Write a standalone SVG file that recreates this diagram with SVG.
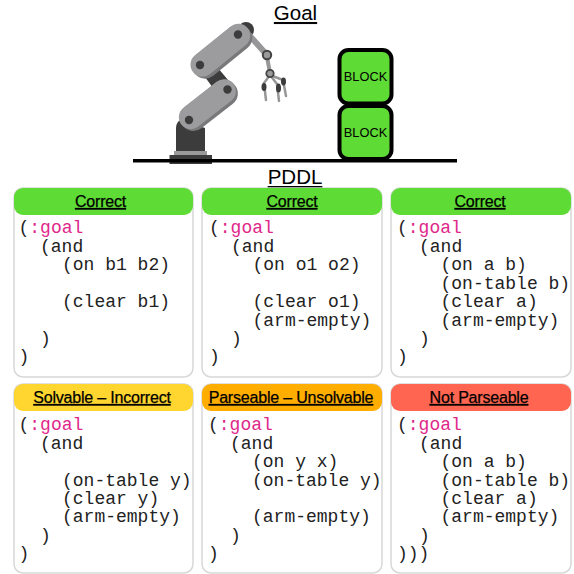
<svg xmlns="http://www.w3.org/2000/svg" width="574" height="574" viewBox="0 0 574 574">
<style>
.t{font-family:"Liberation Sans",Arial,sans-serif;fill:#000;text-anchor:middle}
.big{font-size:20.5px;text-decoration:underline}
.h{font-size:16px;text-decoration:underline;letter-spacing:-.2px;stroke:#000;stroke-width:.25}
.m{font-family:"Liberation Mono","DejaVu Sans Mono",monospace;font-size:18px;fill:#222}
.k{fill:#e0278a}
.card{fill:#fff;stroke:#d8d8d8;stroke-width:1.5}
.g1{fill:#9c9b9d}.g2{fill:#79787a}.d{fill:#3c3c3c}
.lk{fill:none;stroke:#979698;stroke-linecap:round}
.b{fill:#5fdb35;stroke:#000;stroke-width:4}
.bt{font-size:12.8px}
</style>
<g id="title-goal"><text class="t big" x="295.500" y="20">Goal</text></g>
<g id="robot">
<path class="d" d="M176 151V128Q176 122 181 120L205 128V151Z"/>
<rect x="174" y="151" width="33" height="5" fill="#9a9a9a"/>
<rect x="169.500" y="155" width="42.500" height="9" class="d"/>
<path class="d" d="M205 77L218 68L228 80L213 88Z"/>
<rect x="-33" y="-13" width="66" height="27" rx="13" class="g2" transform="translate(208.500 105) rotate(-38)"/>
<rect x="-33" y="-13" width="66" height="24" rx="12" class="g1" transform="translate(208 105) rotate(-38)"/>
<circle cx="189" cy="120" r="4.200" class="d"/><circle cx="227.500" cy="89.500" r="4.200" class="d"/>
<circle cx="246" cy="30" r="8" class="d"/>
<path class="lk" stroke-width="6" d="M250 36L267 55"/>
<path class="lk" stroke-width="4" d="M267 57L270 73"/>
<rect x="-35" y="-13" width="70" height="27" rx="13" class="g2" transform="translate(221.500 51) rotate(-39)"/>
<rect x="-35" y="-13" width="70" height="24" rx="12" class="g1" transform="translate(221 51) rotate(-39)"/>
<circle cx="200" cy="65" r="4.200" class="d"/><circle cx="238" cy="34.500" r="4.200" class="d"/>
<circle cx="267" cy="55" r="4.200" fill="#9a9a9a" stroke="#444" stroke-width="2"/>
<path class="lk" stroke-width="2.500" d="M270 75L264 83L266 100M270 75L277 84L279 101M270 75L283 80L286 96"/>
<circle cx="270" cy="73.500" r="3.700" fill="#9a9a9a" stroke="#444" stroke-width="1.800"/>
<ellipse cx="264" cy="87" rx="2.500" ry="4" class="d"/><ellipse cx="278.500" cy="88" rx="2.500" ry="4.500" class="d"/><ellipse cx="283.500" cy="81.500" rx="2.500" ry="4" class="d"/>
</g>
<g id="ground"><rect x="133" y="159" width="324" height="3.500" fill="#000"/></g>
<g id="block-top"><rect class="b" x="339.500" y="50" width="52" height="53.500" rx="9"/><text class="t bt" x="365.500" y="81">BLOCK</text></g>
<g id="block-bottom"><rect class="b" x="339.500" y="106" width="52" height="53" rx="9"/><text class="t bt" x="365.500" y="137">BLOCK</text></g>
<g id="title-pddl"><text class="t big" x="295" y="184">PDDL</text></g>

<g id="card-1"><rect class="card" x="14" y="188" width="179" height="189" rx="9"/><path d="M14 197a9 9 0 0 1 9-9h161a9 9 0 0 1 9 9v9a9 9 0 0 1-9 9H23a9 9 0 0 1-9-9Z" fill="#5fdb35"/><text class="t h" x="100.500" y="207">Correct</text>
<text class="m"><tspan x="18.500" y="233">(</tspan><tspan class="k">:goal</tspan><tspan x="40" y="252">(and</tspan><tspan x="62" y="270">(on b1 b2)</tspan><tspan x="62" y="307">(clear b1)</tspan><tspan x="40" y="344">)</tspan><tspan x="18.500" y="362">)</tspan></text></g>

<g id="card-2"><rect class="card" x="202" y="188" width="180" height="189" rx="9"/><path d="M202 197a9 9 0 0 1 9-9h162a9 9 0 0 1 9 9v9a9 9 0 0 1-9 9H211a9 9 0 0 1-9-9Z" fill="#5fdb35"/><text class="t h" x="292" y="207">Correct</text>
<text class="m"><tspan x="209" y="233">(</tspan><tspan class="k">:goal</tspan><tspan x="231" y="252">(and</tspan><tspan x="252.500" y="270">(on o1 o2)</tspan><tspan x="252.500" y="307">(clear o1)</tspan><tspan x="252.500" y="326">(arm-empty)</tspan><tspan x="231" y="344">)</tspan><tspan x="209" y="362">)</tspan></text></g>

<g id="card-3"><rect class="card" x="391" y="188" width="180" height="189" rx="9"/><path d="M391 197a9 9 0 0 1 9-9h162a9 9 0 0 1 9 9v9a9 9 0 0 1-9 9H400a9 9 0 0 1-9-9Z" fill="#5fdb35"/><text class="t h" x="480" y="207">Correct</text>
<text class="m"><tspan x="397" y="233">(</tspan><tspan class="k">:goal</tspan><tspan x="419" y="252">(and</tspan><tspan x="440.500" y="270">(on a b)</tspan><tspan x="440.500" y="289">(on-table b)</tspan><tspan x="440.500" y="307">(clear a)</tspan><tspan x="440.500" y="326">(arm-empty)</tspan><tspan x="419" y="344">)</tspan><tspan x="397" y="362">)</tspan></text></g>

<g id="card-4"><rect class="card" x="14" y="384" width="179" height="189" rx="9"/><path d="M14 393a9 9 0 0 1 9-9h161a9 9 0 0 1 9 9v9a9 9 0 0 1-9 9H23a9 9 0 0 1-9-9Z" fill="#fed62f"/><text class="t h" x="102" y="403">Solvable – Incorrect</text>
<text class="m"><tspan x="18.500" y="430">(</tspan><tspan class="k">:goal</tspan><tspan x="40" y="449">(and</tspan><tspan x="62" y="486">(on-table y)</tspan><tspan x="62" y="504">(clear y)</tspan><tspan x="62" y="522">(arm-empty)</tspan><tspan x="40" y="541">)</tspan><tspan x="18.500" y="559">)</tspan></text></g>

<g id="card-5"><rect class="card" x="202" y="384" width="180" height="189" rx="9"/><path d="M202 393a9 9 0 0 1 9-9h162a9 9 0 0 1 9 9v9a9 9 0 0 1-9 9H211a9 9 0 0 1-9-9Z" fill="#ffae00"/><text class="t h" x="291" y="403">Parseable – Unsolvable</text>
<text class="m"><tspan x="208" y="430">(</tspan><tspan class="k">:goal</tspan><tspan x="230" y="449">(and</tspan><tspan x="252" y="467">(on y x)</tspan><tspan x="252" y="486">(on-table y)</tspan><tspan x="252" y="522">(arm-empty)</tspan><tspan x="230" y="541">)</tspan><tspan x="208" y="559">)</tspan></text></g>

<g id="card-6"><rect class="card" x="391" y="384" width="180" height="189" rx="9"/><path d="M391 393a9 9 0 0 1 9-9h162a9 9 0 0 1 9 9v9a9 9 0 0 1-9 9H400a9 9 0 0 1-9-9Z" fill="#ff6550"/><text class="t h" x="479" y="403">Not Parseable</text>
<text class="m"><tspan x="397" y="430">(</tspan><tspan class="k">:goal</tspan><tspan x="419" y="449">(and</tspan><tspan x="440.500" y="467">(on a b)</tspan><tspan x="440.500" y="486">(on-table b)</tspan><tspan x="440.500" y="504">(clear a)</tspan><tspan x="440.500" y="522">(arm-empty)</tspan><tspan x="419" y="541">)</tspan><tspan x="397" y="559">)))</tspan></text></g>
</svg>
